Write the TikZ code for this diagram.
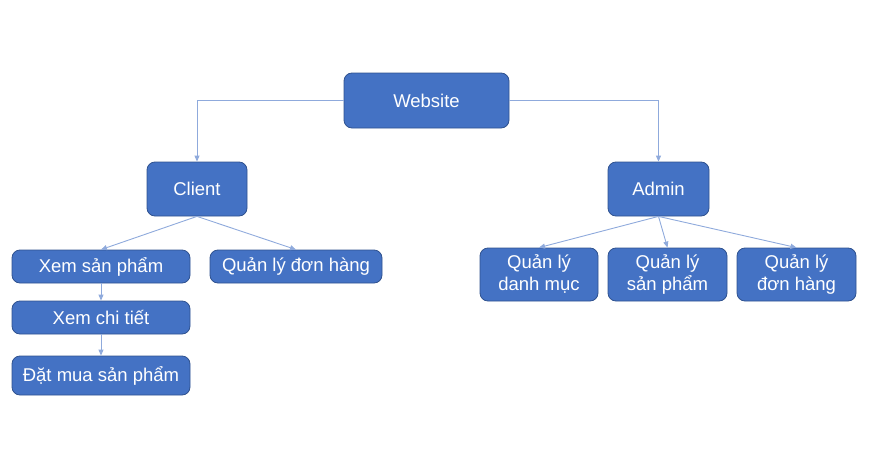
\documentclass[tikz,border=0pt]{standalone}
\usepackage{fontspec}
\setmainfont{Liberation Sans}
\usetikzlibrary{arrows.meta}
\definecolor{boxfill}{HTML}{4472C4}
\definecolor{boxline}{HTML}{2F528F}
\definecolor{conn}{HTML}{8FAADC}
\tikzset{
  box/.style={draw=boxline, line width=0.8pt, fill=boxfill, rounded corners=8pt, text=white,
    font=\fontsize{18.5}{22}\selectfont, align=center, inner sep=0pt},
  conn/.style={draw=conn, line width=0.9pt, -{Triangle[length=6pt,width=5pt]}}
}
\begin{document}
\begin{tikzpicture}[x=1pt,y=-1pt]
\useasboundingbox (0,0) rectangle (873,471);
\node[box, minimum width=165pt, minimum height=55pt] (web) at (426.5,100.5) {Website};
\node[box, minimum width=100pt, minimum height=54pt] (client) at (197,189) {Client};
\node[box, minimum width=101pt, minimum height=54pt] (admin) at (658.5,189) {Admin};
\node[box, minimum width=178pt, minimum height=33pt] (xem) at (101,266.5) {Xem sản phẩm};
\node[box, minimum width=172pt, minimum height=33pt] (qldh1) at (296,266.5) {Quản lý đơn hàng};
\node[box, minimum width=178pt, minimum height=33pt] (chitiet) at (101,317.5) {Xem chi tiết};
\node[box, minimum width=178pt, minimum height=39pt] (datmua) at (101,375.5) {Đặt mua sản phẩm};
\node[box, minimum width=118pt, minimum height=53pt] (dm) at (539,274.5) {Quản lý\\danh mục};
\node[box, minimum width=119pt, minimum height=53pt] (sp) at (667.5,274.5) {Quản lý\\sản phẩm};
\node[box, minimum width=119pt, minimum height=53pt] (dh) at (796.5,274.5) {Quản lý\\đơn hàng};
\draw[conn] (web.west) -| (client.north);
\draw[conn] (web.east) -| (admin.north);
\draw[conn] (client.south) -- (xem.north);
\draw[conn] (client.south) -- (qldh1.north);
\draw[conn] (xem.south) -- (chitiet.north);
\draw[conn] (chitiet.south) -- (datmua.north);
\draw[conn] (admin.south) -- (dm.north);
\draw[conn] (admin.south) -- (sp.north);
\draw[conn] (admin.south) -- (dh.north);
\end{tikzpicture}
\end{document}
